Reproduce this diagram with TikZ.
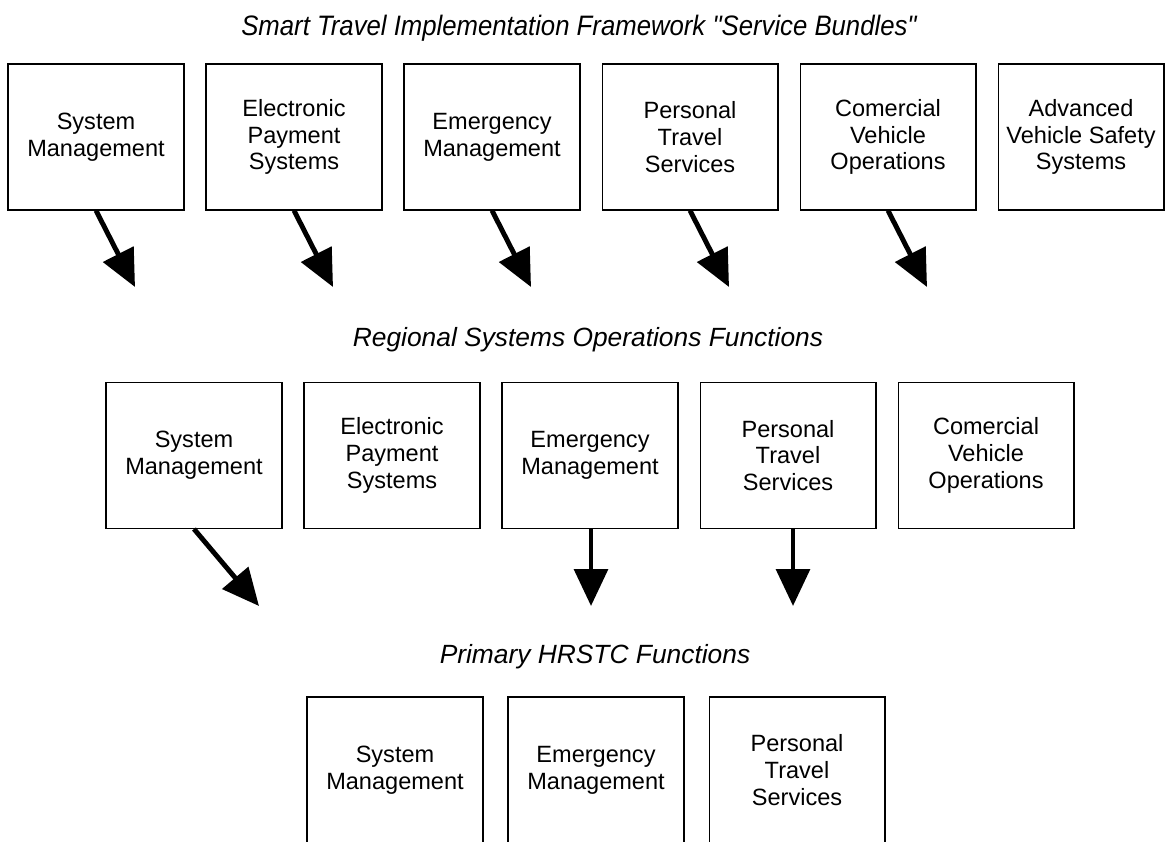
\documentclass[tikz,border=0pt]{standalone}
\usepackage{fontspec}
\setmainfont{Liberation Sans}[Ligatures=TeXOff]
\usetikzlibrary{arrows.meta}

\begin{document}
\begin{tikzpicture}[x=0.02cm, y=-0.02cm,
		box/.style={draw, line width=0.6pt, minimum width=3.52cm, minimum height=2.92cm, inner sep=0pt, align=center, font=\fontsize{13.4}{15.3}\selectfont},
		heading/.style={font=\fontsize{15}{17}\selectfont\itshape},
		bigarrow/.style={line width=2.8pt, -{Triangle[width=19pt,length=21pt]}}]
	\useasboundingbox (0,0) rectangle (1165,841);
	\clip (0,0) rectangle (1165,841);
	% service bundles
	\node[heading, font=\fontsize{16}{18}\selectfont\itshape, xscale=0.915] (title1) at (579,28) {Smart Travel Implementation Framework "Service Bundles"};
	\node[box] (s1) at (96,137) {System\\Management};
	\node[box] (s2) at (294,137) {Electronic\\Payment\\Systems};
	\node[box] (s3) at (492,137) {Emergency\\Management};
	\node[box] (s4) at (690,137) {Personal\\Travel\\Services};
	\node[box] (s5) at (888,137) {Comercial\\Vehicle\\Operations};
	\node[box, minimum width=3.32cm] (s6) at (1081,137) {Advanced\\Vehicle Safety\\Systems};
	\foreach \i/\x in {1/135,2/333,3/531,4/729,5/927}{
		\coordinate (t\i) at (\x,287);
		\draw[bigarrow] (s\i.south) -- (t\i);
	}
	% regional functions
	\node[heading] (title2) at (588,340) {Regional Systems Operations Functions};
	\node[box] (r1) at (194,455.5) {System\\Management};
	\node[box] (r2) at (392,455.5) {Electronic\\Payment\\Systems};
	\node[box] (r3) at (590,455.5) {Emergency\\Management};
	\node[box] (r4) at (788,455.5) {Personal\\Travel\\Services};
	\node[box] (r5) at (986,455.5) {Comercial\\Vehicle\\Operations};
	\coordinate (q1) at (259,606);
	\coordinate (q2) at (591,606);
	\coordinate (q3) at (793,606);
	\draw[bigarrow] (r1.south) -- (q1);
	\draw[bigarrow] (q2 |- r3.south) -- (q2);
	\draw[bigarrow] (q3 |- r4.south) -- (q3);
	% primary functions
	\node[heading] (title3) at (595,657) {Primary HRSTC Functions};
	\node[box] (p1) at (395,770) {System\\Management};
	\node[box] (p2) at (596,770) {Emergency\\Management};
	\node[box] (p3) at (797,770) {Personal\\Travel\\Services};
\end{tikzpicture}
\end{document}
